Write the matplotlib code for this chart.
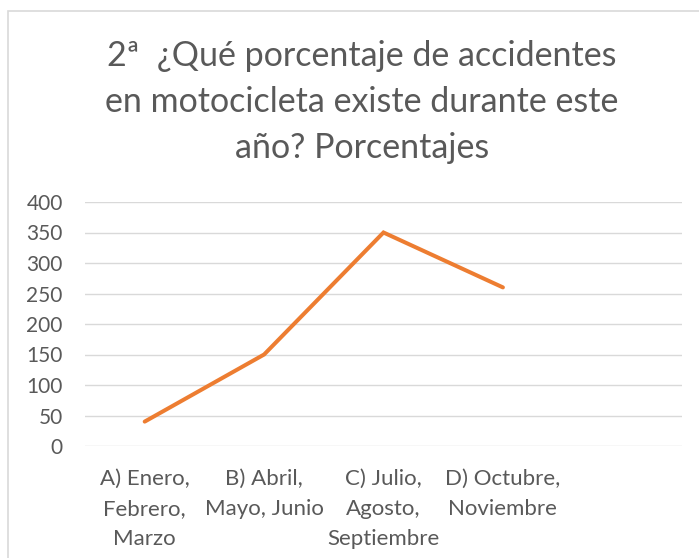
import matplotlib.pyplot as plt
from matplotlib.patches import Rectangle

categories = [
    "A) Enero,\nFebrero,\nMarzo",
    "B) Abril,\nMayo, Junio",
    "C) Julio,\nAgosto,\nSeptiembre",
    "D) Octubre,\nNoviembre",
    "",
]
values = [40, 150, 350, 260]
y_ticks = [0, 50, 100, 150, 200, 250, 300, 350, 400]
title = "2ª  ¿Qué porcentaje de accidentes\nen motocicleta existe durante este\naño? Porcentajes"

text_color = "#595959"
line_color = "#ED7D31"
grid_color = "#D9D9D9"

plt.rcParams["font.family"] = ["Lato", "DejaVu Sans"]

fig = plt.figure(figsize=(6.99, 5.58), dpi=100)
fig.patches.append(Rectangle((8 / 699, -0.1), 1.2, (558 - 11) / 558 + 0.1,
                             transform=fig.transFigure, fill=False,
                             edgecolor=grid_color, linewidth=1.2))

ax = fig.add_axes([85 / 699, 112 / 558, 597 / 699, 244 / 558])

x = list(range(len(values)))
ax.plot(x, values, color=line_color, linewidth=2.9, solid_capstyle="round",
        solid_joinstyle="miter")

ax.set_xlim(-0.5, len(categories) - 0.5)
ax.set_ylim(0, 400)
ax.set_yticks(y_ticks)
ax.set_xticks(range(len(categories)))
ax.set_xticklabels(categories, linespacing=1.62)
ax.tick_params(axis="both", length=0, colors=text_color)
ax.tick_params(axis="y", pad=16, labelsize=15)
ax.tick_params(axis="x", pad=16.5, labelsize=16)
ax.grid(axis="y", color=grid_color, linewidth=1.0)
ax.set_axisbelow(True)
for side in ["top", "right", "left", "bottom"]:
    ax.spines[side].set_visible(False)

fig.text(362 / 699, 1 - 102 / 558, title, ha="center", va="center",
         fontsize=24.5, color=text_color, linespacing=1.54)

fig.savefig("out.png", dpi=100)
